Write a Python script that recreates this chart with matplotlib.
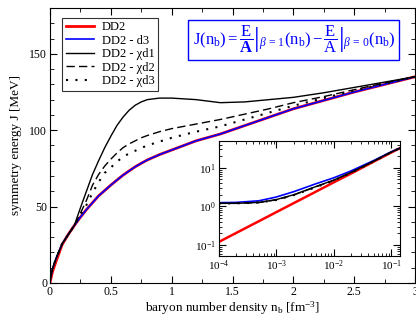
import matplotlib
matplotlib.use('Agg')
import matplotlib.pyplot as plt
from matplotlib.ticker import MultipleLocator, LogLocator, NullFormatter

plt.rcParams['font.family'] = ['Liberation Serif', 'DejaVu Serif']
plt.rcParams['mathtext.fontset'] = 'custom'
plt.rcParams['mathtext.rm'] = 'Liberation Serif'
plt.rcParams['mathtext.it'] = 'Liberation Serif:italic'
plt.rcParams['mathtext.bf'] = 'Liberation Serif:bold'

# main panel: symmetry energy vs baryon density
n_b = [0, 0.02, 0.05, 0.1, 0.15, 0.2, 0.25, 0.3, 0.35, 0.4, 0.45, 0.5, 0.55, 0.6, 0.65,
       0.7, 0.75, 0.8, 0.9, 1.0, 1.2, 1.4, 1.6, 1.8, 2.0, 2.25, 2.5, 2.75, 3.0]
J_dd2 = [0, 7, 14, 25, 31.7, 37.5, 43, 48, 52.5, 57, 60.5, 64, 67.3, 70.5, 73.3,
         76, 78.3, 80.5, 84, 87, 93, 97.5, 103, 108.5, 114, 119.5, 125, 130, 135]
J_d3 = [1.25, 9, 16, 25.5, 31.7, 37.5, 43, 48, 52.5, 57, 60.5, 64, 67.3, 70.5, 73.3,
        76, 78.3, 80.5, 84, 87, 93, 97.5, 103, 108.5, 114, 119.5, 125, 130, 135]
J_chid1 = [1.2, 9, 16, 25.5, 31.5, 37.5, 49, 60, 71, 80, 88.5, 96, 103, 108.5, 113,
           116.3, 118.5, 120, 121, 121, 120, 118, 118.5, 120, 121.5, 124.5, 128, 131.5, 135]
J_chid2 = [1.2, 9, 16, 25.5, 31.5, 37.5, 45.5, 54, 64, 71, 76.5, 81, 85, 88.5, 91,
           93, 95, 96.5, 99, 101, 104, 107, 110.5, 114, 118, 122, 126.5, 131, 135]
J_chid3 = [1.2, 9, 16, 25.5, 31.5, 37.5, 44.5, 51, 59, 66, 72, 75.5, 79.3, 82.5, 84.7,
           86.5, 88.3, 90, 92.5, 95, 99, 102.5, 107, 111.5, 116, 121, 126, 130.5, 135]

# inset: low density, log-log
n_low = [1e-4, 2e-4, 5e-4, 1e-3, 2e-3, 5e-3, 1e-2, 2e-2, 5e-2, 0.1, 0.14]
Jl_dd2 = [0.12, 0.205, 0.415, 0.71, 1.21, 2.45, 4.2, 7.1, 14.5, 24.8, 32]
Jl_d3 = [1.25, 1.27, 1.4, 1.75, 2.4, 3.9, 5.5, 8.3, 15.5, 26, 32]
Jl_chid1 = [1.2, 1.2, 1.27, 1.5, 2.0, 3.3, 4.8, 7.6, 15, 25.5, 32]
Jl_chid2 = [1.2, 1.2, 1.26, 1.48, 1.97, 3.25, 4.75, 7.5, 14.8, 25.3, 32]
Jl_chid3 = [1.2, 1.2, 1.26, 1.47, 1.95, 3.2, 4.7, 7.45, 14.7, 25.2, 32]

fig = plt.figure(figsize=(4.16, 3.2), dpi=100)
ax = fig.add_axes([0.120, 0.116, 0.878, 0.859])

ax.plot(n_b, J_dd2, color='#ff0000', lw=2.0, label='DD2')
ax.plot(n_b, J_d3, color='#0000ff', lw=1.2, label='DD2 - d3')
ax.plot(n_b, J_chid1, color='black', lw=1.0, label='DD2 - χd1')
ax.plot(n_b, J_chid2, color='black', lw=1.0, ls=(0, (6, 3)), label='DD2 - χd2')
ax.plot(n_b, J_chid3, color='black', lw=1.5, ls=(0, (1, 3.5)), label='DD2 - χd3')

ax.set_xlim(0, 3)
ax.set_ylim(0, 180)
ax.xaxis.set_major_locator(MultipleLocator(0.5))
ax.xaxis.set_minor_locator(MultipleLocator(0.25))
ax.yaxis.set_major_locator(MultipleLocator(50))
ax.yaxis.set_minor_locator(MultipleLocator(10))
ax.xaxis.set_major_formatter(plt.FuncFormatter(lambda v, p: '%g' % v))
ax.tick_params(which='both', direction='in', top=True, right=True, labelsize=8.5, pad=2)
ax.tick_params(which='major', length=5)
ax.tick_params(which='minor', length=3)
ax.set_xlabel('baryon number density n$_\\mathrm{b}$ [fm$^{-3}$]', fontsize=9.5, labelpad=1)
ax.set_ylabel('symmetry energy J [MeV]', fontsize=9.5, labelpad=5)

leg = ax.legend(loc='upper left', bbox_to_anchor=(0.033, 0.965), fontsize=9,
                frameon=True, fancybox=False, handlelength=2.3, handletextpad=0.6,
                labelspacing=0.12, borderpad=0.3, borderaxespad=0)
leg.get_frame().set_edgecolor('black')
leg.get_frame().set_linewidth(0.8)

formula = (r'$\mathrm{J(n_b)} = \left.\dfrac{\mathrm{E}}{\mathbf{A}}\right|_{\beta\,=\,1}\mathrm{(n_b)}'
           r' - \left.\dfrac{\mathrm{E}}{\mathrm{A}}\right|_{\beta\,=\,0}\mathrm{(n_b)}$')
ax.text(0.668, 0.884, formula, transform=ax.transAxes, color='#0000ff', fontsize=12,
        ha='center', va='center',
        bbox=dict(boxstyle='square,pad=0.25', fc='white', ec='#0000ff', lw=1.0))

ins = fig.add_axes([0.526, 0.2, 0.436, 0.36])
ins.plot(n_low, Jl_dd2, color='#ff0000', lw=1.8)
ins.plot(n_low, Jl_d3, color='#0000ff', lw=1.2)
ins.plot(n_low, Jl_chid1, color='black', lw=1.0)
ins.plot(n_low, Jl_chid2, color='black', lw=1.0, ls=(0, (6, 3)))
ins.plot(n_low, Jl_chid3, color='black', lw=1.5, ls=(0, (1, 3.5)))
ins.set_xscale('log')
ins.set_yscale('log')
ins.set_xlim(1e-4, 0.1435)
ins.set_ylim(0.052, 50)
ins.xaxis.set_major_locator(LogLocator(base=10, numticks=10))
ins.xaxis.set_minor_locator(LogLocator(base=10, subs=range(2, 10), numticks=20))
ins.yaxis.set_major_locator(LogLocator(base=10, numticks=10))
ins.yaxis.set_minor_locator(LogLocator(base=10, subs=range(2, 10), numticks=20))
ins.xaxis.set_minor_formatter(NullFormatter())
ins.yaxis.set_minor_formatter(NullFormatter())
ins.tick_params(which='both', direction='in', top=True, right=True, labelsize=8, pad=2)
ins.tick_params(which='major', length=5)
ins.tick_params(which='minor', length=2.5)

fig.savefig('out.png', dpi=100)
